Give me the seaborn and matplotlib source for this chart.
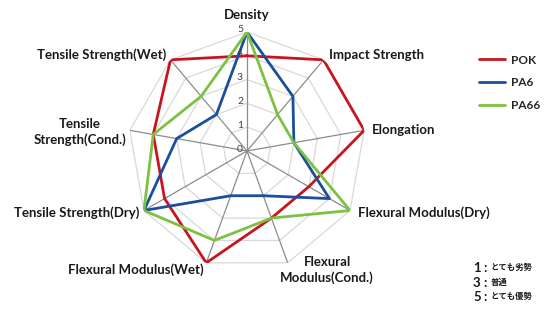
import numpy as np
import pandas as pd
import matplotlib
matplotlib.use("Agg")
import matplotlib.pyplot as plt
import matplotlib.transforms as mtrans
from matplotlib.lines import Line2D
import seaborn as sns

categories = ["Density", "Impact Strength", "Elongation", "Flexural Modulus(Dry)",
              "Flexural\nModulus(Cond.)", "Flexural Modulus(Wet)", "Tensile Strength(Dry)",
              "Tensile\nStrength(Cond.)", "Tensile Strength(Wet)"]
pok = [4, 5, 5, 3, 3, 5, 4, 4, 5]
pa6 = [5, 3, 2, 4, 2, 2, 5, 3, 2]
pa66 = [5, 2, 2, 5, 3, 4, 5, 4, 3]
series_names = ["POK", "PA6", "PA66"]
tick_levels = [0, 1, 2, 3, 4, 5]
note_nums = ["1", "3", "5"]
note_texts = ["とても劣勢", "普通", "とても優勢"]

sns.set_theme(style="white")
plt.rcParams['font.family'] = ['Lato', 'DejaVu Sans']

W, H = 550, 316
fig = plt.figure(figsize=(5.5, 3.16), dpi=100)
cx, cy, R = 247, 151, 119
ax = fig.add_axes([(cx - R) / W, (H - cy - R) / H, 2 * R / W, 2 * R / H], projection="polar")
ax.set_theta_offset(np.pi / 2)
ax.set_theta_direction(-1)
ax.set_ylim(0, 5)
ax.grid(False)
ax.spines["polar"].set_visible(False)
ax.set_xticks([])
ax.set_yticks([])
ax.patch.set_alpha(0)

n = len(categories)
angles = np.arange(n) * 2 * np.pi / n
closed = np.append(angles, angles[0])

for lv in tick_levels[1:]:
    ax.plot(closed, [lv] * (n + 1), color="#d9d9d9", lw=0.9, zorder=1)
for a in angles:
    ax.plot([a, a], [0, tick_levels[-1]], color="#8c8c8c", lw=0.9, zorder=1)

rows = []
for name, vals in zip(series_names, [pok, pa6, pa66]):
    for k in range(n + 1):
        rows.append({"material": name, "theta": closed[k], "value": vals[k % n]})
df = pd.DataFrame(rows)
palette = {"POK": "#c8141e", "PA6": "#1b4f9c", "PA66": "#7cc242"}
sns.lineplot(data=df, x="theta", y="value", hue="material", units="material", estimator=None,
             sort=False, palette=palette, lw=2.0, ax=ax, zorder=3, legend=False)
ax.set_xlabel("")
ax.set_ylabel("")

off = mtrans.ScaledTranslation(-4 / 100, 2 / 100, fig.dpi_scale_trans)
for lv in tick_levels:
    ax.text(0, lv, str(lv), transform=ax.transData + off, fontsize=7.5, color="#404040",
            ha="right", va="center", zorder=4)

def ftext(x, y, s, ha="left", va="center", size=9.5, **kw):
    fig.text(x / W, 1 - y / H, s, ha=ha, va=va, fontsize=size, fontweight="bold", color="#1a1a1a", **kw)

ftext(247, 15, categories[0], ha="center")
ftext(329, 55, categories[1])
ftext(372, 130, categories[2])
ftext(358, 213, categories[3])
ftext(327, 270, categories[4], ha="center", linespacing=1.3)
ftext(204, 270, categories[5], ha="right")
ftext(139, 213, categories[6], ha="right")
ftext(80, 132, categories[7], ha="center", linespacing=1.3)
ftext(166, 55, categories[8], ha="right")

handles = [Line2D([0], [0], color=palette[s], lw=2) for s in series_names]
fig.legend(handles, series_names, loc="upper left", bbox_to_anchor=(468 / W, 1 - 44 / H),
           frameon=False, handlelength=2.2, labelspacing=1.0, handletextpad=0.5,
           prop={"family": "Lato", "weight": "bold", "size": 8.5})

ys = [268, 283, 297]
for num, txt, y in zip(note_nums, note_texts, ys):
    fig.text(473 / W, 1 - y / H, num, ha="left", va="center", fontsize=9.5, fontweight="bold",
             family=["Lato"], color="#1a1a1a")
    fig.text(483 / W, 1 - y / H, ":", ha="left", va="center", fontsize=9.5, fontweight="bold",
             family=["Lato"], color="#1a1a1a")
    fig.text(491 / W, 1 - (y - 1) / H, txt, ha="left", va="center", fontsize=6, fontweight="bold",
             family=["Noto Sans CJK JP"], color="#1a1a1a")

fig.savefig("out.png", dpi=100)
